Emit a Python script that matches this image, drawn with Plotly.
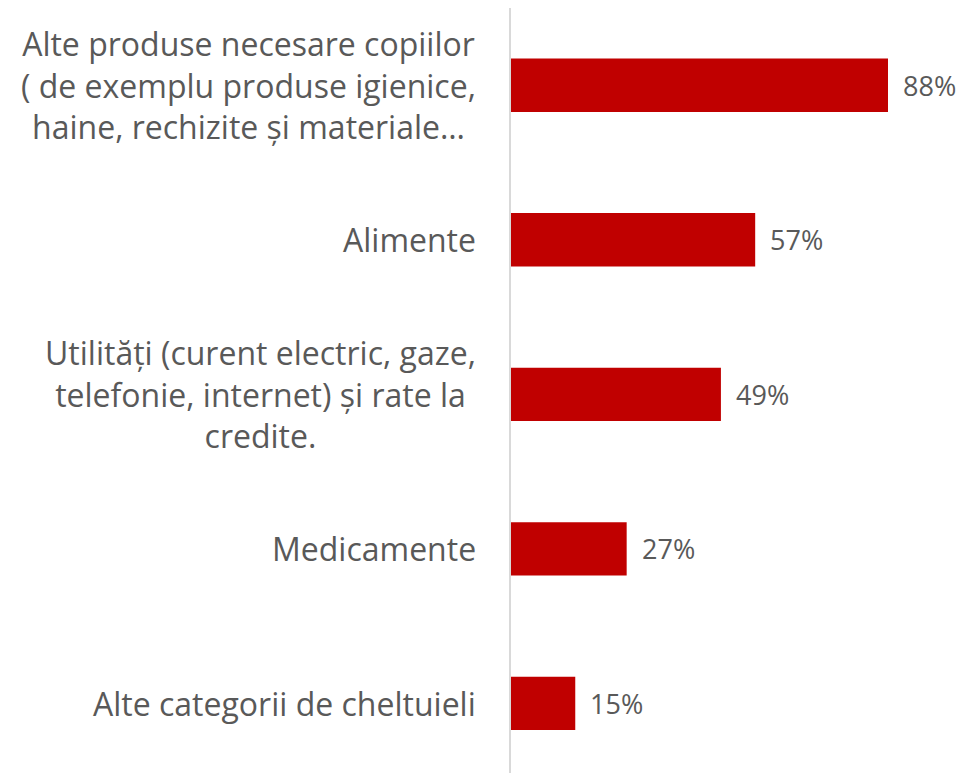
import plotly.graph_objects as go

categories = [
    "Alte produse necesare copiilor<br>( de exemplu produse igienice,<br>haine, rechizite și materiale…",
    "Alimente",
    "Utilități (curent electric, gaze,<br>telefonie, internet) și rate la<br>credite.",
    "Medicamente",
    "Alte categorii de cheltuieli",
]
values = [88, 57, 49, 27, 15]
value_labels = [f"{v}%" for v in values]

FONT = "Open Sans, Calibri, sans-serif"
TXT = "#595959"
BAR = "#C00000"

fig = go.Figure()
fig.add_trace(go.Bar(
    x=values,
    y=categories,
    orientation="h",
    marker=dict(color=BAR, line=dict(width=0)),
    width=0.345,
    hoverinfo="skip",
))

annotations = []
for cat in categories:
    annotations.append(dict(
        x=0, xref="paper", y=cat, yref="y",
        text=cat, showarrow=False, xanchor="right", yanchor="middle",
        align="center", xshift=-33,
        font=dict(family=FONT, size=32, color=TXT),
    ))
for cat, v, lab in zip(categories, values, value_labels):
    annotations.append(dict(
        x=v, xref="x", y=cat, yref="y",
        text=lab, showarrow=False, xanchor="left", yanchor="middle",
        xshift=13,
        font=dict(family=FONT, size=27, color=TXT),
    ))

fig.update_layout(
    width=956, height=765,
    margin=dict(l=503, r=0, t=0, b=0),
    paper_bgcolor="white", plot_bgcolor="white",
    showlegend=False,
    bargap=0.65,
    annotations=annotations,
    xaxis=dict(range=[0, 105.74], visible=False, fixedrange=True),
    yaxis=dict(
        type="category",
        range=[4.451, -0.5],
        showticklabels=False,
        showgrid=False,
        zeroline=False,
        showline=True,
        linecolor="#D9D9D9",
        linewidth=1.5,
        ticks="",
    ),
)

fig.write_html("out.html")
